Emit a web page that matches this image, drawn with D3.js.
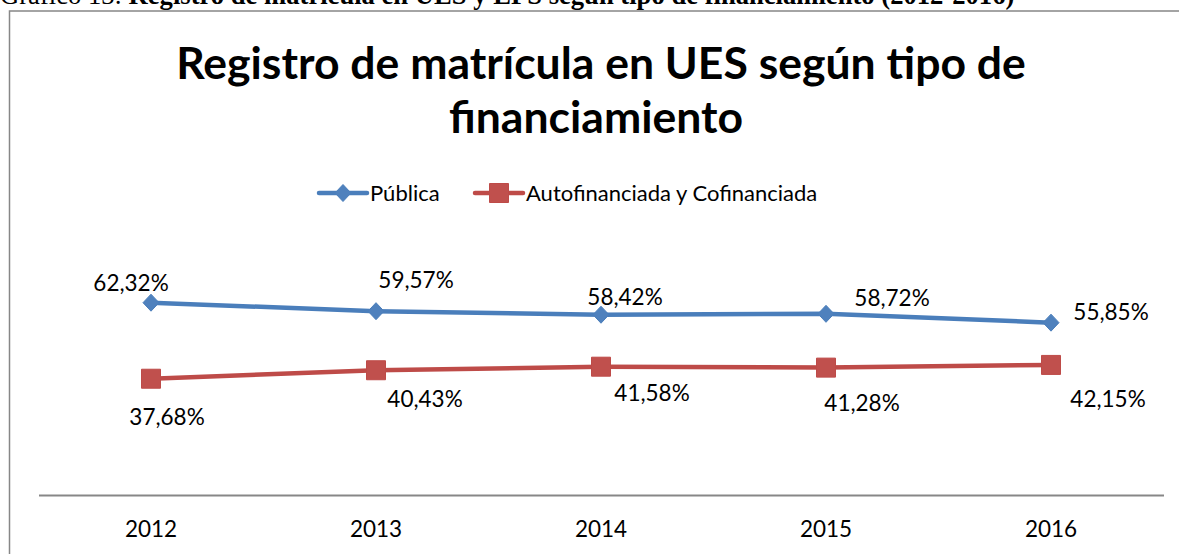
<!DOCTYPE html>
<html>
<head>
<meta charset="utf-8">
<script src="https://cdn.jsdelivr.net/npm/d3@7"></script>
<style>
  body { margin: 0; background: #fff; }
  svg { display: block; }
</style>
</head>
<body>
<script>
// chart data
const years = ["2012", "2013", "2014", "2015", "2016"];
const publica = [62.32, 59.57, 58.42, 58.72, 55.85];
const autofin = [37.68, 40.43, 41.58, 41.28, 42.15];
const seriesNames = ["Pública", "Autofinanciada y Cofinanciada"];

const W = 1179, H = 554;
const svg = d3.select("body").append("svg")
    .attr("width", W)
    .attr("height", H);

// helper: shrink/grow font so a text fits a given width
function fitWidth(sel, target) {
    const w = sel.node().getComputedTextLength();
    const fs = parseFloat(sel.style("font-size"));
    sel.style("font-size", (fs * target / w) + "px");
}

// caption of the document, cut off at the top
const cap = svg.append("text")
    .attr("x", 0)
    .attr("y", 4)
    .style("font-family", "'Liberation Serif', serif")
    .style("font-size", "20px")
    .style("fill", "#000");
cap.append("tspan").text("Gráfico 13: ");
cap.append("tspan").style("font-weight", "bold")
    .text("Registro de matrícula en UES y EPS según tipo de financiamiento (2012-2016)");
fitWidth(cap, 1015);

// chart frame
svg.append("rect")
    .attr("x", 9.5)
    .attr("y", 11)
    .attr("width", W + 10)
    .attr("height", H + 10)
    .attr("fill", "none")
    .attr("stroke", "#878787")
    .attr("stroke-width", 1.5);

// title
const font = "Lato, 'Open Sans', sans-serif";
const t1 = svg.append("text")
    .attr("x", 601).attr("y", 79)
    .attr("text-anchor", "middle")
    .style("font-family", font).style("font-weight", "bold").style("font-size", "38px")
    .text("Registro de matrícula en UES según tipo de");
fitWidth(t1, 850);
svg.append("text")
    .attr("x", 596).attr("y", 133)
    .attr("text-anchor", "middle")
    .style("font-family", font).style("font-weight", "bold").style("font-size", t1.style("font-size"))
    .text("financiamiento");

// scales
const margin = { left: 38.5, right: W - 1163.5 };
const x = d3.scaleBand()
    .domain(years)
    .range([margin.left, W - margin.right]);
const y = d3.scaleLinear()
    .domain([0, 70])
    .range([495, 279]);
const cx = d => x(d) + x.bandwidth() / 2;

// x axis
const xAxis = svg.append("g")
    .attr("transform", "translate(0,495)")
    .call(d3.axisBottom(x).tickSize(0).tickPadding(26));
xAxis.select(".domain").attr("stroke", "#878787").attr("stroke-width", 2);
xAxis.selectAll("text")
    .style("font-family", font)
    .style("font-size", "22.5px")
    .attr("fill", "#000");

const colors = ["#4A7EBB", "#BE4B48"];
const fills = ["#4F81BD", "#C0504D"];
const data = [publica, autofin];

// label offsets (manually placed labels in the original)
const labelOffsets = [
    [[-20, -12], [40, -23], [24, -10], [66, -8], [60, -3]],
    [[16, 46], [49, 37], [51, 34], [36, 43], [57, 42]]
];

const line = d3.line()
    .x((v, i) => cx(years[i]))
    .y(v => y(v));

const diamond = "M0,-8.5L8,0L0,8.5L-8,0Z";
const square = "M-9.5,-9.5H9.5V9.5H-9.5Z";
const shapes = [diamond, square];

data.forEach((vals, s) => {
    svg.append("path")
        .datum(vals)
        .attr("d", line)
        .attr("fill", "none")
        .attr("stroke", colors[s])
        .attr("stroke-width", 4.5)
        .attr("stroke-linejoin", "round");

    svg.selectAll(".m" + s)
        .data(vals)
        .enter()
        .append("path")
        .attr("class", "m" + s)
        .attr("d", shapes[s])
        .attr("transform", (v, i) => `translate(${cx(years[i])},${y(v)})`)
        .attr("fill", fills[s])
        .attr("stroke", colors[s])
        .attr("stroke-width", 1);

    svg.selectAll(".l" + s)
        .data(vals)
        .enter()
        .append("text")
        .attr("class", "l" + s)
        .attr("x", (v, i) => cx(years[i]) + labelOffsets[s][i][0])
        .attr("y", (v, i) => y(v) + labelOffsets[s][i][1])
        .attr("text-anchor", "middle")
        .style("font-family", font)
        .style("font-size", "22.5px")
        .attr("fill", "#000")
        .text(v => v.toFixed(2).replace(".", ",") + "%");
});

// legend
const legendPos = [319, 475];
seriesNames.forEach((name, s) => {
    const g = svg.append("g").attr("transform", `translate(${legendPos[s]},193)`);
    g.append("line")
        .attr("x1", 0).attr("x2", 48)
        .attr("stroke", colors[s])
        .attr("stroke-width", 4.5)
        .attr("stroke-linecap", "round");
    g.append("path")
        .attr("d", shapes[s])
        .attr("transform", "translate(24,0)")
        .attr("fill", fills[s])
        .attr("stroke", colors[s]);
    g.append("text")
        .attr("x", 51).attr("y", 7.5)
        .style("font-family", font)
        .style("font-size", "22px")
        .attr("fill", "#000")
        .text(name);
});
</script>
</body>
</html>
